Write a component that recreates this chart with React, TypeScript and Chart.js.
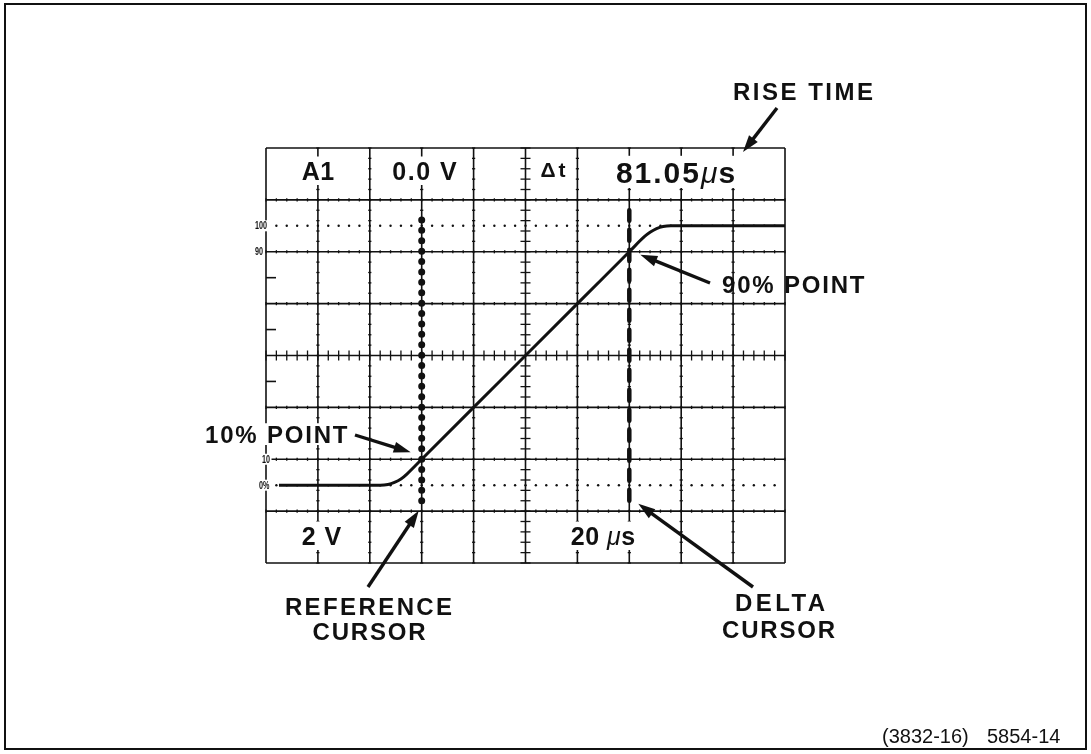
import React, { useEffect, useRef } from "react";
import { Chart, registerables } from "chart.js";

Chart.register(...registerables);

// ---- data (time in µs, amplitude in % of step) ----
const waveTimeUs = [5, 20, 40, 44, 47, 49.5, 52, 54.3, 60, 80, 100, 120, 140, 145.8, 148, 150.5, 153, 156, 180, 200];
const wavePercent = [0, 0, 0, 0, 0.3, 1.1, 2.4, 4.3, 10, 30, 50, 70, 90, 95.8, 97.5, 98.9, 99.7, 100, 100, 100];

const referenceCursorUs = 60;
const deltaCursorUs = 140;
const cursorSpanPercent = [-6, 106];

// graticule (10 x 8 divisions, 20 µs/div, 20 %/div)
const timeRangeUs = [0, 200];
const percentRange = [-30, 130];
const gridTimeUs = [0, 20, 40, 60, 80, 100, 120, 140, 160, 180, 200];
const gridPercent = [-30, -10, 10, 30, 50, 70, 90, 110, 130];
const minorStepUs = 4;
const minorStepPercent = 4;
const centerTimeUs = 100;
const centerPercent = 50;
const dottedPercent = [0, 100];
const edgeStubPercent = [80, 60, 40, 20];
const edgeLabels = ["100", "90", "10", "0%"];
const edgeLabelPercent = [100, 90, 10, 0];

const FONT = '"Liberation Sans", Arial, Helvetica, sans-serif';
const INK = "#111";

type Run = { t: string; size: number; ls?: number; italic?: boolean; weight?: string };

function fontOf(r: Run) {
  return `${r.italic ? "italic " : ""}${r.weight || "bold"} ${r.size}px ${FONT}`;
}

function drawRuns(ctx: any, runs: Run[], x: number, y: number, align: string, bg: boolean, padX = 3, padY = 5) {
  const widths = runs.map((r) => {
    ctx.font = fontOf(r);
    ctx.letterSpacing = `${r.ls || 0}px`;
    return ctx.measureText(r.t).width;
  });
  const last = runs[runs.length - 1];
  const total = widths.reduce((a, b) => a + b, 0) - (last.ls || 0);
  let sx = align === "center" ? x - total / 2 : align === "right" ? x - total : x;
  const maxSize = Math.max(...runs.map((r) => r.size));
  if (bg) {
    ctx.fillStyle = "#fff";
    ctx.fillRect(sx - padX, y - maxSize * 0.74 - padY, total + 2 * padX, maxSize * 0.74 + 2 * padY);
  }
  ctx.fillStyle = INK;
  ctx.textAlign = "left";
  ctx.textBaseline = "alphabetic";
  runs.forEach((r, i) => {
    ctx.font = fontOf(r);
    ctx.letterSpacing = `${r.ls || 0}px`;
    ctx.fillText(r.t, sx, y);
    sx += widths[i];
  });
  ctx.letterSpacing = "0px";
}

function drawArrow(ctx: any, x1: number, y1: number, x2: number, y2: number) {
  const head = 17;
  const hw = 5.5;
  const a = Math.atan2(y2 - y1, x2 - x1);
  const c = Math.cos(a);
  const s = Math.sin(a);
  const bx = x2 - head * c;
  const by = y2 - head * s;
  ctx.strokeStyle = INK;
  ctx.fillStyle = INK;
  ctx.lineWidth = 3.4;
  ctx.lineCap = "butt";
  ctx.beginPath();
  ctx.moveTo(x1, y1);
  ctx.lineTo(bx + 2 * c, by + 2 * s);
  ctx.stroke();
  ctx.beginPath();
  ctx.moveTo(x2, y2);
  ctx.lineTo(bx - hw * s, by + hw * c);
  ctx.lineTo(bx + hw * s, by - hw * c);
  ctx.closePath();
  ctx.fill();
}

const scopePlugin = {
  id: "scope",
  beforeDraw(chart: any) {
    const ctx = chart.ctx;
    ctx.save();
    ctx.fillStyle = "#fff";
    ctx.fillRect(0, 0, chart.width, chart.height);
    ctx.strokeStyle = INK;
    ctx.lineWidth = 2;
    ctx.strokeRect(5, 4, chart.width - 10, chart.height - 9);
    ctx.restore();
  },
  beforeDatasetsDraw(chart: any) {
    const ctx = chart.ctx;
    const xs = chart.scales.x;
    const ys = chart.scales.y;
    const X = (v: number) => xs.getPixelForValue(v);
    const Y = (v: number) => ys.getPixelForValue(v);
    const left = X(timeRangeUs[0]);
    const right = X(timeRangeUs[1]);
    const top = Y(percentRange[1]);
    const bottom = Y(percentRange[0]);
    const seg = (x1: number, y1: number, x2: number, y2: number) => {
      ctx.beginPath();
      ctx.moveTo(x1, y1);
      ctx.lineTo(x2, y2);
      ctx.stroke();
    };
    ctx.save();
    ctx.strokeStyle = INK;
    ctx.lineCap = "butt";
    // main grid
    ctx.lineWidth = 1.6;
    gridTimeUs.forEach((t) => seg(X(t), top, X(t), bottom));
    gridPercent.forEach((p) => seg(left, Y(p), right, Y(p)));
    // minor marks on grid lines
    ctx.lineWidth = 1.3;
    gridTimeUs.forEach((t) => {
      if (t === timeRangeUs[0] || t === timeRangeUs[1]) return;
      const big = t === centerTimeUs;
      for (let p = percentRange[0]; p <= percentRange[1]; p += minorStepPercent) {
        const h = big ? 5 : 1.6;
        seg(X(t) - h, Y(p), X(t) + h, Y(p));
      }
    });
    gridPercent.forEach((p) => {
      if (p === percentRange[0] || p === percentRange[1]) return;
      const big = p === centerPercent;
      for (let t = timeRangeUs[0]; t <= timeRangeUs[1]; t += minorStepUs) {
        const h = big ? 5 : 1.6;
        seg(X(t), Y(p) - h, X(t), Y(p) + h);
      }
    });
    // dotted 0% / 100% lines
    ctx.fillStyle = INK;
    dottedPercent.forEach((p) => {
      for (let t = timeRangeUs[0] + minorStepUs; t < timeRangeUs[1]; t += minorStepUs) {
        ctx.beginPath();
        ctx.arc(X(t), Y(p), 1.2, 0, Math.PI * 2);
        ctx.fill();
      }
    });
    // left edge stubs
    ctx.lineWidth = 1.6;
    edgeStubPercent.forEach((p) => seg(left, Y(p), left + 10, Y(p)));
    // readout texts (header / footer)
    drawRuns(ctx, [{ t: "A1", size: 25, ls: 0.5 }], 318, 180, "center", true);
    drawRuns(ctx, [{ t: "0.0 V", size: 25, ls: 1.5 }], 424.5, 180, "center", true);
    drawRuns(ctx, [{ t: "Δt", size: 21, ls: 3 }], 553, 177, "center", true, 2, 5);
    drawRuns(
      ctx,
      [
        { t: "81.05", size: 30, ls: 2 },
        { t: "μ", size: 30, italic: true, weight: "normal", ls: 1 },
        { t: "s", size: 30 },
      ],
      675.5,
      183,
      "center",
      true,
      3,
      5
    );
    drawRuns(ctx, [{ t: "2 V", size: 25, ls: 1 }], 321.5, 545, "center", true);
    drawRuns(
      ctx,
      [
        { t: "20 ", size: 25, ls: 0.5 },
        { t: "μ", size: 25, italic: true, weight: "normal", ls: 0.5 },
        { t: "s", size: 25 },
      ],
      603,
      545,
      "center",
      true
    );
    // edge labels (condensed)
    edgeLabels.forEach((lab, i) => {
      const y = Y(edgeLabelPercent[i]);
      const x = lab === "10" ? 262 : lab === "0%" ? 259 : 255;
      ctx.save();
      ctx.font = `bold 10px ${FONT}`;
      const w = ctx.measureText(lab).width * 0.72;
      ctx.fillStyle = "#fff";
      ctx.fillRect(x - 1.5, y - 5.5, w + 3, 11);
      ctx.translate(x, y + 3.6);
      ctx.scale(0.72, 1);
      ctx.fillStyle = INK;
      ctx.textAlign = "left";
      ctx.fillText(lab, 0, 0);
      ctx.restore();
    });
    ctx.restore();
  },
  afterDraw(chart: any) {
    const ctx = chart.ctx;
    const xs = chart.scales.x;
    const ys = chart.scales.y;
    const X = (v: number) => xs.getPixelForValue(v);
    const Y = (v: number) => ys.getPixelForValue(v);
    ctx.save();
    // annotation texts
    drawRuns(ctx, [{ t: "RISE TIME", size: 24, ls: 2.5 }], 803, 100, "center", false);
    drawRuns(ctx, [{ t: "90% POINT", size: 24, ls: 1.8 }], 722, 293, "left", false);
    drawRuns(ctx, [{ t: "10% POINT", size: 24, ls: 1.8 }], 205, 443, "left", true, 1, 2);
    drawRuns(ctx, [{ t: "REFERENCE", size: 24, ls: 2.4 }], 368.5, 615, "center", false);
    drawRuns(ctx, [{ t: "CURSOR", size: 24, ls: 1.8 }], 369, 640, "center", false);
    drawRuns(ctx, [{ t: "DELTA", size: 24, ls: 3.4 }], 780, 611, "center", false);
    drawRuns(ctx, [{ t: "CURSOR", size: 24, ls: 1.8 }], 778.5, 638, "center", false);
    drawRuns(ctx, [{ t: "(3832-16)", size: 20, weight: "normal" }], 882, 743, "left", false);
    drawRuns(ctx, [{ t: "5854-14", size: 20, weight: "normal" }], 987, 743, "left", false);
    // arrows (tips anchored on the marks they point to)
    drawArrow(ctx, 777, 108, 743, 152);
    drawArrow(ctx, 710, 283, X(deltaCursorUs) + 11, Y(90) + 3);
    drawArrow(ctx, 355, 435, X(referenceCursorUs) - 11, Y(10) - 7);
    drawArrow(ctx, 368, 587, X(referenceCursorUs) - 3, Y(cursorSpanPercent[0]) + 10);
    drawArrow(ctx, 753, 587, X(deltaCursorUs) + 9, Y(cursorSpanPercent[0]) + 3);
    ctx.restore();
  },
};

export default function App() {
  const canvasRef = useRef<HTMLCanvasElement | null>(null);

  useEffect(() => {
    const canvas = canvasRef.current;
    if (!canvas) return;
    const W = 1091;
    const H = 754;
    const chart = new Chart(canvas, {
      type: "line",
      data: {
        datasets: [
          {
            label: "signal",
            data: waveTimeUs.map((t, i) => ({ x: t, y: wavePercent[i] })),
            borderColor: INK,
            borderWidth: 3,
            cubicInterpolationMode: "monotone",
            pointRadius: 0,
            fill: false,
          },
          {
            label: "reference cursor",
            data: cursorSpanPercent.map((p) => ({ x: referenceCursorUs, y: p })),
            borderColor: INK,
            borderWidth: 7,
            borderDash: [0, 10.4],
            borderCapStyle: "round",
            pointRadius: 0,
            fill: false,
          },
          {
            label: "delta cursor",
            data: cursorSpanPercent.map((p) => ({ x: deltaCursorUs, y: p })),
            borderColor: INK,
            borderWidth: 4.5,
            borderDash: [11, 9],
            borderCapStyle: "round",
            pointRadius: 0,
            fill: false,
          },
        ],
      },
      options: {
        responsive: false,
        animation: false,
        devicePixelRatio: 1,
        layout: { padding: { left: 266, top: 148, right: W - 785, bottom: H - 563 } },
        scales: {
          x: { type: "linear", min: timeRangeUs[0], max: timeRangeUs[1], display: false },
          y: { type: "linear", min: percentRange[0], max: percentRange[1], display: false },
        },
        plugins: { legend: { display: false }, tooltip: { enabled: false } },
      },
      plugins: [scopePlugin],
    } as any);
    return () => chart.destroy();
  }, []);

  return (
    <div style={{ position: "fixed", left: 0, top: 0, width: 1091, height: 754, background: "#fff" }}>
      <canvas ref={canvasRef} width={1091} height={754} style={{ display: "block", width: 1091, height: 754 }} />
    </div>
  );
}
